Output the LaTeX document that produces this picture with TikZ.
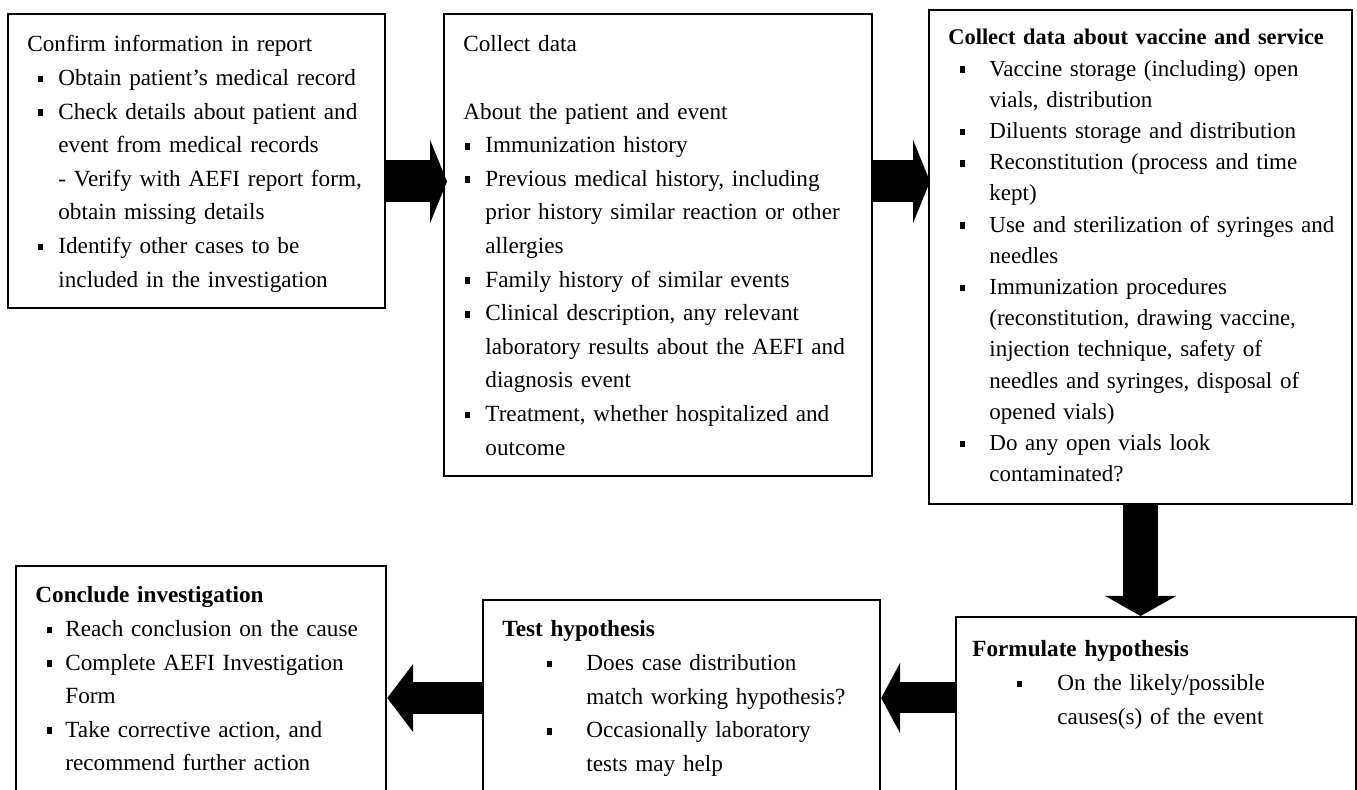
\documentclass[tikz,border=0pt]{standalone}
\usepackage{fontspec}
\setmainfont{Liberation Serif}
\usepackage{tikz}
\usetikzlibrary{arrows.meta,positioning}
\newlength{\itemind}
\newlength{\bulsep}
\newcommand{\sq}{\rule[1.6pt]{2.8pt}{3.4pt}}
\newcommand{\itm}{\par\leftskip=\itemind\noindent\llap{\sq\hspace{\bulsep}}}
\newcommand{\setind}[2]{\setlength{\itemind}{#1}\setlength{\bulsep}{#2}}
\tikzset{
    every node/.append style={font=\fontsize{11.6}{16.8}\selectfont}}

\begin{document}
\begin{tikzpicture}[x=0.5pt,y=-0.5pt,
    box/.style={draw, line width=1.1pt, anchor=north west, inner sep=0pt},
    txt/.style={anchor=base west, inner sep=0pt, text width=#1, align=left},
    bigarrow/.style n args={3}{line width=#1, -{Triangle[width=#2,length=#3]}}]
    \useasboundingbox (0,0) rectangle (1357,790);
    \clip (0,0) rectangle (1357,790);

    % boxes
    \node[box, minimum width=188.5pt, minimum height=147pt]   (confirm)   at (7,13)    {};
    \node[box, minimum width=214pt,   minimum height=231pt]   (collect)   at (443,13)  {};
    \node[box, minimum width=211.5pt, minimum height=247pt]   (vaccine)   at (928,9)   {};
    \node[box, minimum width=185pt,   minimum height=127.5pt] (conclude)  at (15,565)  {};
    \node[box, minimum width=198.5pt, minimum height=110.5pt] (test)      at (482,599) {};
    \node[box, minimum width=200pt,   minimum height=102pt]   (formulate) at (955,616) {};

    % texts
    \node[txt=180pt] (confirm-t) at (27,52) {\setind{15.5pt}{7.5pt}%
        Confirm information in report
        \itm Obtain patient’s medical record
        \itm Check details about patient and\\ event from medical records\\
        - Verify with AEFI report form,\\ obtain missing details
        \itm Identify other cases to be\\ included in the investigation\par};
    \node[txt=205pt] (collect-t) at (463,52) {\setind{11pt}{7.5pt}%
        Collect data\par\mbox{}\par
        About the patient and event
        \itm Immunization history
        \itm Previous medical history, including\\ prior history similar reaction or other\\ allergies
        \itm Family history of similar events
        \itm Clinical description, any relevant\\ laboratory results about the AEFI and\\ diagnosis event
        \itm Treatment, whether hospitalized and\\ outcome\par};
    \node[txt=205pt, font=\fontsize{11.5}{15.6}\selectfont] (vaccine-t) at (948,45) {\setind{20.5pt}{12pt}%
        {\fontsize{11.2}{15.6}\selectfont\textbf{Collect data about vaccine and service}}
        \itm Vaccine storage (including) open\\ vials, distribution
        \itm Diluents storage and distribution
        \itm Reconstitution (process and time\\ kept)
        \itm Use and sterilization of syringes and\\ needles
        \itm Immunization procedures\\ (reconstitution, drawing vaccine,\\ injection technique, safety of\\ needles and syringes, disposal of\\ opened vials)
        \itm Do any open vials look\\ contaminated?\par};
    \node[txt=180pt] (conclude-t) at (35,603) {\setind{15pt}{6.5pt}%
        \textbf{Conclude investigation}
        \itm Reach conclusion on the cause
        \itm Complete AEFI Investigation\\ Form
        \itm Take corrective action, and\\ recommend further action\par};
    \node[txt=190pt] (test-t) at (502,637) {\setind{42pt}{17pt}%
        \textbf{Test hypothesis}
        \itm Does case distribution\\ match working hypothesis?
        \itm Occasionally laboratory\\ tests may help\par};
    \node[txt=190pt] (formulate-t) at (972,657) {\setind{42.5pt}{17.5pt}%
        \textbf{Formulate hypothesis}
        \itm On the likely/possible\\ causes(s) of the event\par};

    % block arrows
    \coordinate (toprow) at (0,181.5);
    \coordinate (botrow) at (0,698);
    \path[bigarrow={21pt}{41.5pt}{8.5pt}]
    (confirm.east |- toprow) edge ([xshift=2pt]collect.west |- toprow)
    (collect.east |- toprow) edge ([xshift=1pt]vaccine.west |- toprow);
    \path[bigarrow={17.5pt}{35pt}{10pt}]
    (vaccine.south) edge (vaccine.south |- formulate.north);
    \path[bigarrow={15.5pt}{35pt}{9.5pt}]
    (formulate.west |- botrow) edge (test.east |- botrow);
    \path[bigarrow={16pt}{33.5pt}{13pt}]
    (test.west |- botrow) edge (conclude.east |- botrow);
\end{tikzpicture}
\end{document}
